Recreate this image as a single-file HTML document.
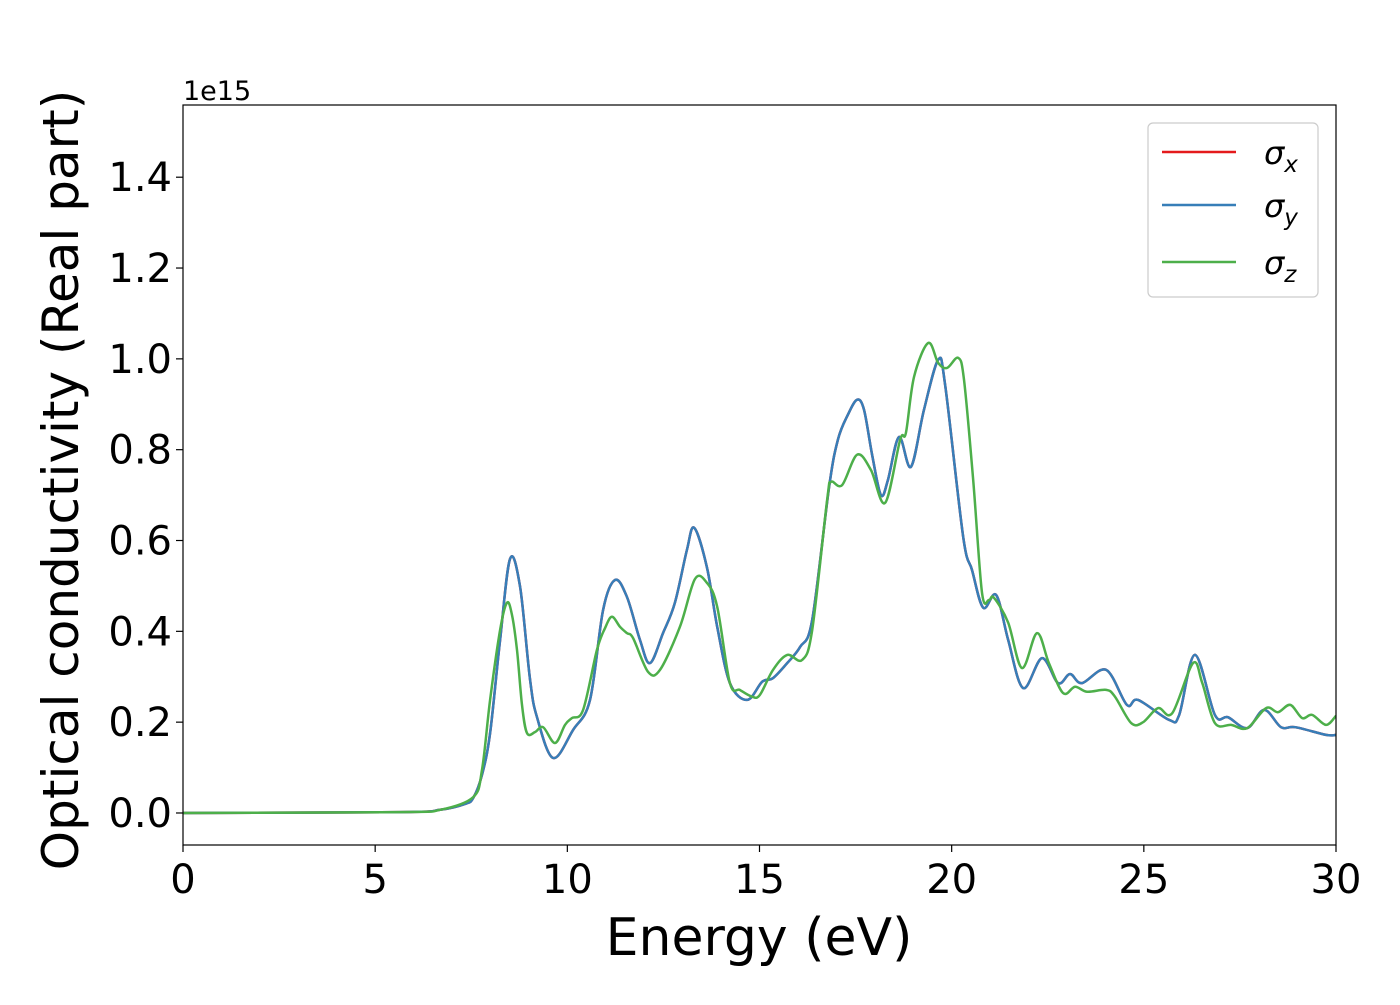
<!DOCTYPE html>
<html><head><meta charset="utf-8"><style>
body{margin:0;background:#fff;}
svg text{font-family:"DejaVu Sans","Liberation Sans",sans-serif;}
</style></head><body>
<svg id="chart" width="1400" height="1000" xmlns="http://www.w3.org/2000/svg">
<rect width="1400" height="1000" fill="#fff"/>
<g id="plot"></g>
<rect x="183" y="105" width="1153" height="740" fill="none" stroke="#000" stroke-width="1.2"/>
<g id="xticks"></g>
<g id="yticks"></g>
<text x="183" y="100" font-size="27">1e15</text>
<text x="759" y="955" font-size="52" text-anchor="middle">Energy (eV)</text>
<text transform="translate(78,480) rotate(-90)" font-size="50" text-anchor="middle">Optical conductivity (Real part)</text>
<g>
<rect x="1148" y="123" width="170" height="174" rx="5" fill="#fff" fill-opacity="0.8" stroke="#ccc" stroke-width="1.2"/>
<line x1="1162" y1="152" x2="1236" y2="152" stroke="#e41a1c" stroke-width="2.5"/>
<text x="1264" y="164" font-size="32" font-style="italic">σ<tspan font-size="23" dy="8">x</tspan></text>
<line x1="1162" y1="205" x2="1236" y2="205" stroke="#377eb8" stroke-width="2.5"/>
<text x="1264" y="217" font-size="32" font-style="italic">σ<tspan font-size="23" dy="8">y</tspan></text>
<line x1="1162" y1="262" x2="1236" y2="262" stroke="#4daf4a" stroke-width="2.5"/>
<text x="1264" y="274" font-size="32" font-style="italic">σ<tspan font-size="23" dy="8">z</tspan></text>
</g>
</svg>
<script>
const xTicks = [0,5,10,15,20,25,30];
const yTicks = [0.0,0.2,0.4,0.6,0.8,1.0,1.2,1.4];
const energyXY = [0,5.65,6.69,7.34,7.55,7.78,7.99,8.25,8.51,8.77,9.03,9.21,9.63,10.15,10.59,10.93,11.24,11.55,11.89,12.15,12.49,12.80,13.11,13.30,13.63,13.90,14.23,14.68,15.07,15.35,15.72,16.06,16.37,16.81,17.04,17.30,17.54,17.72,17.93,18.16,18.34,18.63,18.94,19.28,19.65,19.83,20.30,20.53,20.82,21.16,21.47,21.86,22.35,22.77,23.08,23.39,24.02,24.56,24.85,25.66,25.92,26.33,26.85,27.19,27.69,28.13,28.57,28.94,29.74,30];
const sigmaX = [0,0.002,0.007,0.020,0.033,0.084,0.176,0.381,0.560,0.498,0.293,0.211,0.121,0.183,0.249,0.447,0.513,0.476,0.381,0.330,0.396,0.463,0.579,0.628,0.542,0.410,0.286,0.249,0.289,0.297,0.330,0.366,0.425,0.718,0.822,0.877,0.910,0.888,0.789,0.700,0.733,0.828,0.762,0.888,0.998,0.943,0.608,0.535,0.452,0.480,0.381,0.275,0.341,0.286,0.306,0.286,0.315,0.238,0.249,0.205,0.216,0.348,0.216,0.211,0.187,0.227,0.189,0.189,0.172,0.172];
const sigmaY = [0,0.002,0.007,0.020,0.033,0.084,0.176,0.381,0.560,0.498,0.293,0.211,0.121,0.183,0.249,0.447,0.513,0.476,0.381,0.330,0.396,0.463,0.579,0.628,0.542,0.410,0.286,0.249,0.289,0.297,0.330,0.366,0.425,0.718,0.822,0.877,0.910,0.888,0.789,0.700,0.733,0.828,0.762,0.888,0.998,0.943,0.608,0.535,0.452,0.480,0.381,0.275,0.341,0.286,0.306,0.286,0.315,0.238,0.249,0.205,0.216,0.348,0.216,0.211,0.187,0.227,0.189,0.189,0.172,0.172];
const energyZ = [0,5.65,6.69,7.55,7.78,7.99,8.25,8.43,8.56,8.69,8.82,8.95,9.16,9.37,9.68,9.94,10.12,10.41,10.77,10.98,11.16,11.37,11.55,11.71,12.10,12.41,12.93,13.32,13.63,13.90,14.23,14.49,14.81,15.01,15.35,15.72,16.11,16.37,16.76,16.86,17.15,17.54,17.90,18.27,18.66,18.81,19.02,19.39,19.65,19.88,20.17,20.32,20.56,20.79,20.97,21.10,21.47,21.83,22.22,22.53,22.90,23.21,23.52,24.02,24.25,24.67,24.98,25.37,25.74,26.28,26.52,26.85,27.27,27.69,28.18,28.49,28.81,29.12,29.38,29.74,30];
const sigmaZ = [0,0.002,0.007,0.035,0.095,0.249,0.403,0.463,0.436,0.359,0.238,0.176,0.178,0.189,0.154,0.194,0.209,0.227,0.359,0.407,0.432,0.410,0.396,0.385,0.311,0.315,0.410,0.515,0.507,0.454,0.286,0.271,0.256,0.260,0.315,0.348,0.337,0.403,0.689,0.729,0.722,0.789,0.755,0.683,0.822,0.837,0.960,1.035,0.991,0.980,1.002,0.954,0.733,0.485,0.469,0.474,0.419,0.319,0.396,0.330,0.264,0.278,0.267,0.271,0.256,0.198,0.200,0.231,0.220,0.330,0.286,0.198,0.194,0.187,0.231,0.222,0.238,0.209,0.216,0.194,0.214];

const X0=183,X1=1336,Y0=845,Y1=105,XMIN=0,XMAX=30,YMIN=-0.0705,YMAX=1.559;
const sx=v=>X0+(v-XMIN)/(XMAX-XMIN)*(X1-X0);
const sy=v=>Y0-(v-YMIN)/(YMAX-YMIN)*(Y0-Y1);
const NS="http://www.w3.org/2000/svg";
function mk(tag,attrs,parent){const e=document.createElementNS(NS,tag);for(const k in attrs)e.setAttribute(k,attrs[k]);parent.appendChild(e);return e;}
const xg=document.getElementById('xticks'), yg=document.getElementById('yticks'), plot=document.getElementById('plot');
xTicks.forEach(t=>{
  const l=mk('line',{x1:sx(t),x2:sx(t),y1:Y0,y2:Y0+7,stroke:'#000','stroke-width':1.2},xg);
  
  
  const tx=mk('text',{x:sx(t),y:Y0+48,'font-size':40,'text-anchor':'middle'},xg);
  tx.textContent=t;
  
  
});
yTicks.forEach(t=>{
  const l=mk('line',{x1:X0-7,x2:X0,y1:sy(t),y2:sy(t),stroke:'#000','stroke-width':1.2},yg);
  
  
  const tx=mk('text',{x:X0-11,y:sy(t)+14,'font-size':40,'text-anchor':'end'},yg);
  tx.textContent=t.toFixed(1);
  
  
});
function pathFor(xs,ys){
  const p=xs.map((x,i)=>[sx(x),sy(ys[i])]);
  let d='M'+p[0][0].toFixed(1)+','+p[0][1].toFixed(1);
  for(let i=0;i<p.length-1;i++){
    const a=p[Math.max(0,i-1)],b=p[i],c=p[i+1],e=p[Math.min(p.length-1,i+2)];
    const c1=[b[0]+(c[0]-a[0])/6,b[1]+(c[1]-a[1])/6];
    const c2=[c[0]-(e[0]-b[0])/6,c[1]-(e[1]-b[1])/6];
    d+='C'+c1[0].toFixed(1)+','+c1[1].toFixed(1)+' '+c2[0].toFixed(1)+','+c2[1].toFixed(1)+' '+c[0].toFixed(1)+','+c[1].toFixed(1);
  }
  return d;
}
const clip=mk('clipPath',{id:'cp'},plot);
mk('rect',{x:X0,y:Y1,width:X1-X0,height:Y0-Y1},clip);
const lx=mk('path',{d:pathFor(energyXY,sigmaX),fill:'none',stroke:'#e41a1c','stroke-width':2.5,'clip-path':'url(#cp)'},plot);


const ly=mk('path',{d:pathFor(energyXY,sigmaY),fill:'none',stroke:'#377eb8','stroke-width':2.5,'clip-path':'url(#cp)'},plot);


const lz=mk('path',{d:pathFor(energyZ,sigmaZ),fill:'none',stroke:'#4daf4a','stroke-width':2.5,'clip-path':'url(#cp)'},plot);


</script>
</body></html>
